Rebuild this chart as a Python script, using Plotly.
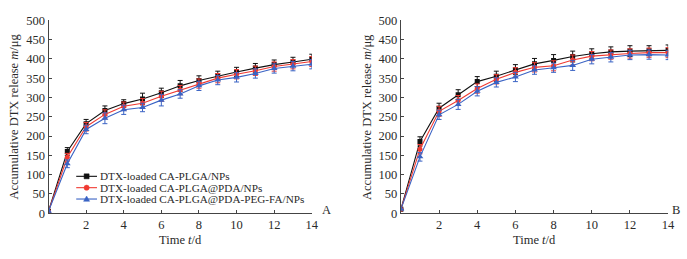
import plotly.graph_objects as go

W, H = 687, 259

days = list(range(0, 15))
x_ticks = [2, 4, 6, 8, 10, 12, 14]
y_ticks = list(range(0, 501, 50))

series_names = ["DTX-loaded CA-PLGA/NPs", "DTX-loaded CA-PLGA@PDA/NPs", "DTX-loaded CA-PLGA@PDA-PEG-FA/NPs"]
colors = ["#111111", "#f03a32", "#3a63c4"]
symbols = ["square", "circle", "triangle-up"]

# Panel A
a_black = [5, 160, 232, 266, 284, 296, 312, 330, 344, 356, 366, 376, 385, 392, 399]
a_red = [5, 145, 224, 256, 277, 285, 303, 319, 336, 350, 360, 369, 380, 386, 393]
a_blue = [5, 128, 217, 246, 268, 274, 293, 309, 330, 345, 352, 362, 375, 381, 386]
a_black_err = [0, 10, 11, 12, 10, 15, 12, 14, 12, 12, 12, 12, 12, 12, 13]
a_red_err = [0, 10, 11, 12, 11, 12, 13, 12, 12, 12, 12, 12, 12, 12, 13]
a_blue_err = [0, 10, 11, 14, 12, 11, 15, 11, 12, 12, 12, 12, 12, 12, 12]

# Panel B
b_black = [10, 186, 272, 307, 341, 355, 372, 387, 396, 406, 413, 418, 420, 421, 422]
b_red = [10, 166, 264, 292, 323, 347, 365, 378, 382, 397, 407, 411, 414, 416, 416]
b_blue = [10, 146, 255, 282, 316, 339, 353, 371, 377, 383, 399, 404, 410, 411, 410]
b_black_err = [0, 12, 13, 13, 13, 13, 13, 14, 15, 14, 13, 13, 14, 13, 14]
b_red_err = [0, 12, 13, 13, 12, 12, 12, 12, 13, 13, 12, 12, 12, 12, 13]
b_blue_err = [0, 11, 12, 13, 12, 12, 12, 11, 12, 13, 12, 12, 12, 12, 12]

panel_labels = ["A", "B"]
y_title = "Accumulative DTX release <i>m</i>/μg"
x_title = "Time <i>t</i>/d"

FONT = "Liberation Serif, Times New Roman, Times, serif"
TXT = "#2a2a2a"
AX = "#444444"


def px(x):
    return x / W


def py(y):
    return 1 - y / H


fig = go.Figure()

panels = [
    ("x", "y", [a_black, a_red, a_blue], [a_black_err, a_red_err, a_blue_err]),
    ("x2", "y2", [b_black, b_red, b_blue], [b_black_err, b_red_err, b_blue_err]),
]
for xa, ya, vals, errs in panels:
    for i in range(3):
        fig.add_trace(go.Scatter(
            x=days, y=vals[i], xaxis=xa, yaxis=ya, mode="lines+markers",
            name=series_names[i], showlegend=False,
            line=dict(color=colors[i], width=1.1),
            marker=dict(symbol=symbols[i], size=5 if i != 2 else 6, color=colors[i]),
            error_y=dict(type="data", array=errs[i], color=colors[i], thickness=1, width=2.5),
        ))

# geometry (pixels)
plot_top, plot_bot = 14, 218
A_l, A_r = 49, 315
B_l, B_r = 405, 675

axis_common = dict(
    showgrid=False, zeroline=False, showline=True, linecolor=AX, linewidth=1,
    ticks="inside", ticklen=3, tickcolor=AX, tickwidth=1,
    tickfont=dict(family=FONT, size=12.5, color=TXT),
)

fig.update_layout(
    width=W, height=H,
    margin=dict(l=0, r=0, t=0, b=0),
    paper_bgcolor="white", plot_bgcolor="white",
    showlegend=False,
    xaxis=dict(domain=[px(A_l), px(A_r)], range=[0, 14], tickvals=x_ticks, anchor="y", **axis_common),
    yaxis=dict(domain=[py(plot_bot), py(plot_top)], range=[0, 500], tickvals=y_ticks, anchor="x", **axis_common),
    xaxis2=dict(domain=[px(B_l), px(B_r)], range=[0, 14], tickvals=x_ticks, anchor="y2", **axis_common),
    yaxis2=dict(domain=[py(plot_bot), py(plot_top)], range=[0, 500], tickvals=y_ticks, anchor="x2", **axis_common),
)

ann = []
# axis titles
for cx in [14, 370]:
    ann.append(dict(x=px(cx), y=py((plot_top + plot_bot) / 2), xref="paper", yref="paper",
                    text=y_title, textangle=-90, showarrow=False,
                    font=dict(family=FONT, size=12.5, color=TXT), xanchor="center", yanchor="middle"))
for cx in [(A_l + A_r) / 2, (B_l + B_r) / 2]:
    ann.append(dict(x=px(cx), y=py(246), xref="paper", yref="paper", text=x_title, showarrow=False,
                    font=dict(family=FONT, size=12.5, color=TXT), xanchor="center", yanchor="middle"))
# panel labels
for lbl, lx in zip(panel_labels, [323, 677]):
    ann.append(dict(x=px(lx), y=py(215), xref="paper", yref="paper", text=lbl, showarrow=False,
                    font=dict(family=FONT, size=12.5, color=TXT), xanchor="left", yanchor="middle"))

# custom legend
shapes = []
leg_rows = [179, 191, 203]
for i, ry in enumerate(leg_rows):
    shapes.append(dict(type="line", xref="paper", yref="paper", x0=px(77), x1=px(98), y0=py(ry), y1=py(ry),
                       line=dict(color=colors[i], width=1.1)))
    common = dict(xref="paper", yref="paper", xsizemode="pixel", ysizemode="pixel",
                  xanchor=px(87.5), yanchor=py(ry), fillcolor=colors[i], line=dict(color=colors[i], width=0.5))
    if i == 0:
        shapes.append(dict(type="rect", x0=-2.5, x1=2.5, y0=-2.5, y1=2.5, **common))
    elif i == 1:
        shapes.append(dict(type="circle", x0=-2.6, x1=2.6, y0=-2.6, y1=2.6, **common))
    else:
        shapes.append(dict(type="path", path="M-3,-2.3 L3,-2.3 L0,3 Z", **common))
    ann.append(dict(x=px(99), y=py(ry), xref="paper", yref="paper", text=series_names[i], showarrow=False,
                    font=dict(family=FONT, size=11.2, color=TXT), xanchor="left", yanchor="middle"))

fig.update_layout(annotations=ann, shapes=shapes)

fig.write_html("out.html", config={"displayModeBar": False},
               post_script="document.body.style.margin='0';document.body.style.overflow='hidden';")
